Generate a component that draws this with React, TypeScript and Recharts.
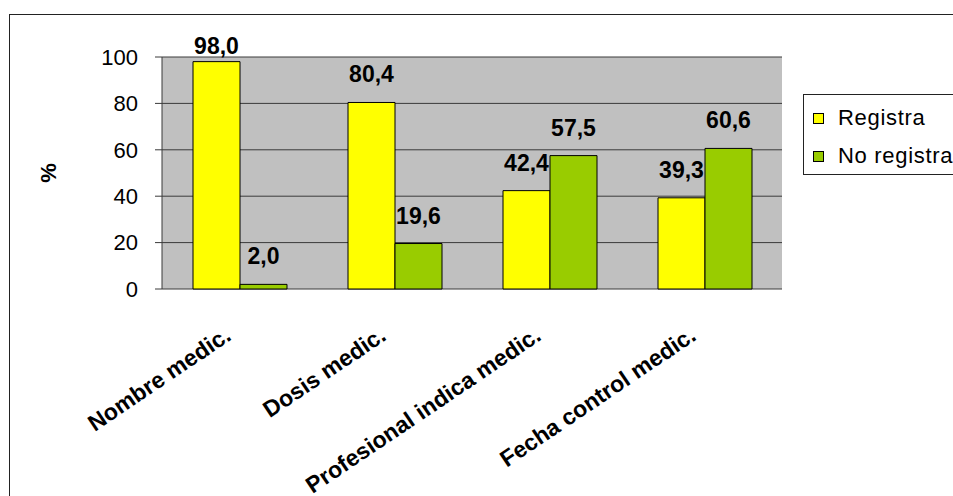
import { BarChart, Bar, XAxis, YAxis, CartesianGrid, LabelList } from 'recharts';

const categories = ['Nombre medic.', 'Dosis medic.', 'Profesional indica medic.', 'Fecha control medic.'];
const registra = [98.0, 80.4, 42.4, 39.3];
const noRegistra = [2.0, 19.6, 57.5, 60.6];
const yTicks = [0, 20, 40, 60, 80, 100];
const edgeTicks = [0, 1, 2, 3, 4];

const series = [
  { key: 'registra', name: 'Registra', color: '#ffff00' },
  { key: 'noRegistra', name: 'No registra', color: '#99cc00' },
];

const data = categories.map((name, i) => ({
  name,
  registra: registra[i],
  noRegistra: noRegistra[i],
}));

const FONT = '"Liberation Sans", Arial, sans-serif';

const fmt = (v: number) => v.toFixed(1).replace('.', ',');

function ValueLabel(props: any) {
  const { x, y, width, value } = props;
  const baseline = Math.max(y - 20, 54);
  return (
    <text
      x={x + width / 2}
      y={baseline}
      textAnchor="middle"
      fontFamily={FONT}
      fontSize={23}
      fontWeight="bold"
      fill="#000"
    >
      {fmt(value)}
    </text>
  );
}

function CategoryTick(props: any) {
  const { x, y, payload } = props;
  const ax = x - 7;
  const ay = y + 50;
  return (
    <text
      x={ax}
      y={ay}
      textAnchor="end"
      transform={`rotate(-34, ${ax}, ${ay})`}
      fontFamily={FONT}
      fontSize={23}
      fontWeight="bold"
      fill="#000"
    >
      {payload.value}
    </text>
  );
}

export default function App() {
  return (
    <div
      style={{
        position: 'absolute',
        left: 0,
        top: 0,
        width: 953,
        height: 496,
        overflow: 'hidden',
        background: '#fff',
        fontFamily: FONT,
      }}
    >
      {/* outer chart frame, cut off at right and bottom */}
      <div
        style={{
          position: 'absolute',
          left: 9,
          top: 14,
          width: 1200,
          height: 800,
          borderLeft: '1px solid #222',
          borderTop: '1px solid #222',
        }}
      />

      <div style={{ position: 'absolute', left: 0, top: 0 }}>
        <BarChart
          width={953}
          height={496}
          data={data}
          margin={{ top: 57, right: 171, left: 102, bottom: 57 }}
          barCategoryGap="20%"
          barGap={0}
        >
          <CartesianGrid vertical={false} fill="#c0c0c0" stroke="#3a3a3a" />
          <XAxis
            dataKey="name"
            type="category"
            height={150}
            axisLine={false}
            tickLine={false}
            tickSize={0}
            tickMargin={0}
            interval={0}
            tick={<CategoryTick />}
          />
          <XAxis
            xAxisId="edges"
            type="number"
            domain={[0, 4]}
            ticks={edgeTicks}
            height={0}
            tick={false}
            tickSize={7}
            axisLine={{ stroke: '#3a3a3a' }}
            tickLine={{ stroke: '#3a3a3a' }}
          />
          <YAxis
            domain={[0, 100]}
            ticks={yTicks}
            width={60}
            tickSize={7}
            tickMargin={17}
            axisLine={{ stroke: '#3a3a3a' }}
            tickLine={{ stroke: '#3a3a3a' }}
            tick={{ fontSize: 22, fill: '#000', fontFamily: FONT }}
            label={{
              content: (p: any) => {
                const vb = p.viewBox;
                const cx = vb.x - 54;
                const cy = vb.y + vb.height / 2;
                return (
                  <text
                    x={cx}
                    y={cy}
                    textAnchor="middle"
                    dominantBaseline="central"
                    transform={`rotate(-90, ${cx}, ${cy})`}
                    fontFamily={FONT}
                    fontSize={22}
                    fontWeight="bold"
                    fill="#000"
                  >
                    %
                  </text>
                );
              },
            }}
          />
          <YAxis
            yAxisId="right"
            orientation="right"
            domain={[0, 100]}
            width={0}
            tick={false}
            tickLine={false}
            axisLine={{ stroke: '#808080' }}
          />
          {series.map((s) => (
            <Bar
              key={s.key}
              dataKey={s.key}
              name={s.name}
              fill={s.color}
              stroke="#000"
              strokeWidth={1}
              isAnimationActive={false}
            >
              <LabelList dataKey={s.key} content={<ValueLabel />} />
            </Bar>
          ))}
        </BarChart>
      </div>

      {/* legend */}
      <div
        style={{
          position: 'absolute',
          left: 803,
          top: 94,
          width: 300,
          height: 79,
          border: '1px solid #222',
          background: '#fff',
        }}
      >
        {series.map((s, i) => (
          <div
            key={s.key}
            style={{
              position: 'absolute',
              left: 9,
              top: 10 + i * 38,
              height: 26,
              display: 'flex',
              alignItems: 'center',
              fontSize: 22,
              letterSpacing: 0.7,
              color: '#000',
              whiteSpace: 'nowrap',
            }}
          >
            <span
              style={{
                display: 'inline-block',
                width: 9,
                height: 9,
                border: '1px solid #000',
                background: s.color,
                marginRight: 14,
              }}
            />
            <span>{s.name}</span>
          </div>
        ))}
      </div>
    </div>
  );
}
